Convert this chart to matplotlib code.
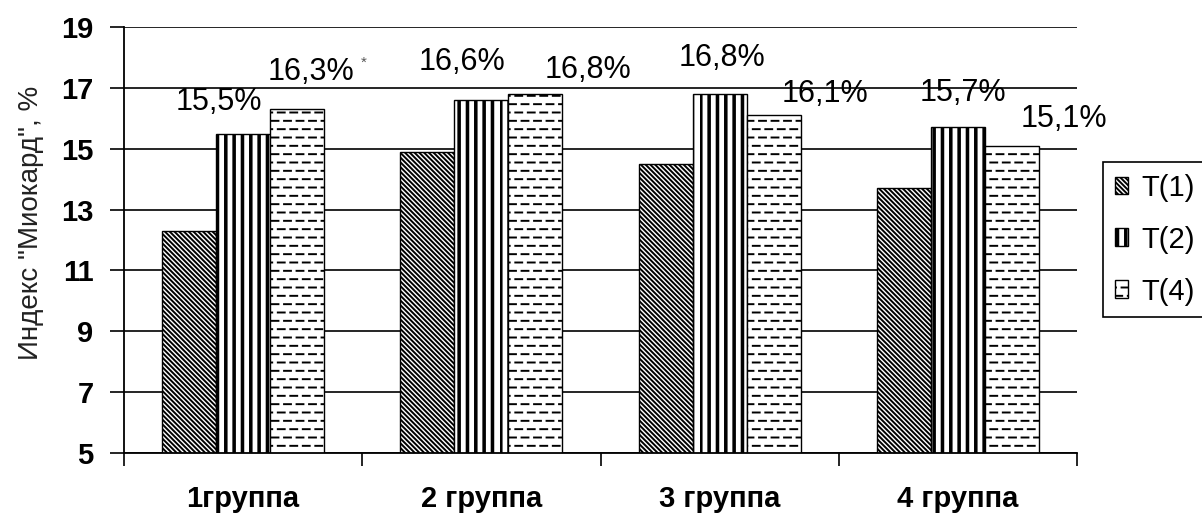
import warnings

import numpy as np
import matplotlib
matplotlib.use("Agg")
import matplotlib.pyplot as plt
from matplotlib import hatch as mhatch
from matplotlib.path import Path

# ---- data -------------------------------------------------------------
groups = ["1группа", "2 группа", "3 группа", "4 группа"]
series_names = ["T(1)", "T(2)", "T(4)"]
t1_values = [12.3, 14.9, 14.5, 13.7]
t2_values = [15.5, 16.6, 16.8, 15.7]
t4_values = [16.3, 16.8, 16.1, 15.1]
t4_notes = ["*", "", "", ""]
y_ticks = [5, 7, 9, 11, 13, 15, 17, 19]
y_label = 'Индекс "Миокард", %'

# ---- label placement (pixel offsets from the top centre of each bar) ----
t2_label_offsets = [(-24, 31), (-19, 38), (2, 36), (5, 34)]
t4_label_offsets = [(14, 37), (53, 24), (51, 21), (52, 27)]
note_offset = (67, 46)


# ---- extra hatch patterns ---------------------------------------------
class DashRowHatch(mhatch.HatchPatternBase):
    """'_' : rows of short dashes, every other row shifted half a step."""
    dashes_per_row = 8
    dash_frac = 0.55

    def __init__(self, hatch, density):
        rows = int(hatch.count("_") * density)
        k = self.dashes_per_row
        half = self.dash_frac / (2 * k)
        segs = []
        for i in range(rows):
            y = (i + 0.5) / rows
            if i % 2 == 0:
                for j in range(k):
                    c = (j + 0.5) / k
                    segs.append((c - half, c + half, y))
            else:
                for j in range(k + 1):
                    c = j / k
                    segs.append((max(c - half, 0.0), min(c + half, 1.0), y))
        self.segs = segs
        self.num_vertices = 2 * len(segs)

    def set_vertices_and_codes(self, vertices, codes):
        for n, (x0, x1, y) in enumerate(self.segs):
            vertices[2 * n] = (x0, y)
            vertices[2 * n + 1] = (x1, y)
            codes[2 * n] = Path.MOVETO
            codes[2 * n + 1] = Path.LINETO


class BoldStripeHatch(mhatch.HatchPatternBase):
    """'I' : heavy vertical stripes drawn as filled strips."""
    strip_width = 0.016

    def __init__(self, hatch, density):
        self.num_strips = int(hatch.count("I") * density)
        self.num_vertices = self.num_strips * 5

    def set_vertices_and_codes(self, vertices, codes):
        w = self.strip_width
        for i in range(self.num_strips):
            x = i / self.num_strips
            vertices[5 * i:5 * i + 5] = [(x, 0.0), (x + w, 0.0), (x + w, 1.0),
                                         (x, 1.0), (x, 0.0)]
            codes[5 * i:5 * i + 5] = [Path.MOVETO, Path.LINETO, Path.LINETO,
                                      Path.LINETO, Path.CLOSEPOLY]


mhatch._hatch_types.append(DashRowHatch)
mhatch._hatch_types.append(BoldStripeHatch)
warnings.filterwarnings("ignore", category=matplotlib.MatplotlibDeprecationWarning)

# ---- figure -----------------------------------------------------------
plt.rcParams["font.family"] = ["Liberation Sans", "DejaVu Sans"]
plt.rcParams["hatch.linewidth"] = 1.4
plt.rcParams["hatch.color"] = "black"

W, H = 1202, 513
fig = plt.figure(figsize=(W / 100, H / 100), dpi=100)
ax = fig.add_axes([124 / W, 60 / H, (1077 - 124) / W, (453 - 27) / H])

x = np.arange(len(groups))
bar_w = 0.227
series = [t1_values, t2_values, t4_values]
hatches = ["\\" * 7, "II", "__"]
containers = []
for k, (vals, name, hatch) in enumerate(zip(series, series_names, hatches)):
    c = ax.bar(x + (k - 1) * bar_w, vals, width=bar_w, color="white",
               edgecolor="black", linewidth=1.0, hatch=hatch, label=name,
               zorder=2)
    containers.append(c)

ax.set_xlim(-0.5, len(groups) - 0.5)
ax.set_ylim(y_ticks[0], y_ticks[-1])
ax.set_yticks(y_ticks)
ax.set_yticklabels([str(v) for v in y_ticks], fontsize=21, fontweight="bold")
ax.yaxis.grid(True, color="black", linewidth=1.2)
ax.set_axisbelow(True)

ax.set_xticks(x)
ax.set_xticklabels(groups, fontsize=21, fontweight="bold")
ax.set_xticks(np.arange(len(groups) + 1) - 0.5, minor=True)
ax.tick_params(axis="x", which="major", length=0, pad=23)
ax.tick_params(axis="x", which="minor", length=9, width=1.2, direction="out")
ax.tick_params(axis="y", length=10, width=1.2, direction="out", pad=12)

for side in ("top", "right"):
    ax.spines[side].set_visible(False)
for side in ("left", "bottom"):
    ax.spines[side].set_linewidth(1.3)

ax.set_ylabel(y_label, fontsize=20, color="#222222")
ax.yaxis.set_label_coords((44 - 124) / (1077 - 124), (453 - 223) / (453 - 27))

# value labels
for vals, offs, cont in ((t2_values, t2_label_offsets, containers[1]),
                         (t4_values, t4_label_offsets, containers[2])):
    for v, (dx, dy), rect in zip(vals, offs, cont):
        cx = rect.get_x() + rect.get_width() / 2
        ax.annotate(f"{v:.1f}%".replace(".", ","), xy=(cx, v),
                    xytext=(dx, dy), textcoords="offset pixels",
                    ha="center", va="center", fontsize=22)

for note, v, rect in zip(t4_notes, t4_values, containers[2]):
    if note:
        cx = rect.get_x() + rect.get_width() / 2
        ax.annotate(note, xy=(cx, v), xytext=note_offset,
                    textcoords="offset pixels", ha="center", va="center",
                    fontsize=11, color="#555555")

leg = ax.legend(loc="upper left", bbox_to_anchor=(1103 / W, 1 - 162 / H),
                bbox_transform=fig.transFigure, fontsize=21, frameon=True,
                fancybox=False, framealpha=1, edgecolor="black",
                borderaxespad=0, borderpad=0.4, handlelength=0.45,
                handleheight=0.55, handletextpad=0.45, labelspacing=0.82)
leg.get_frame().set_linewidth(1.2)

fig.savefig("out.png", dpi=100)
